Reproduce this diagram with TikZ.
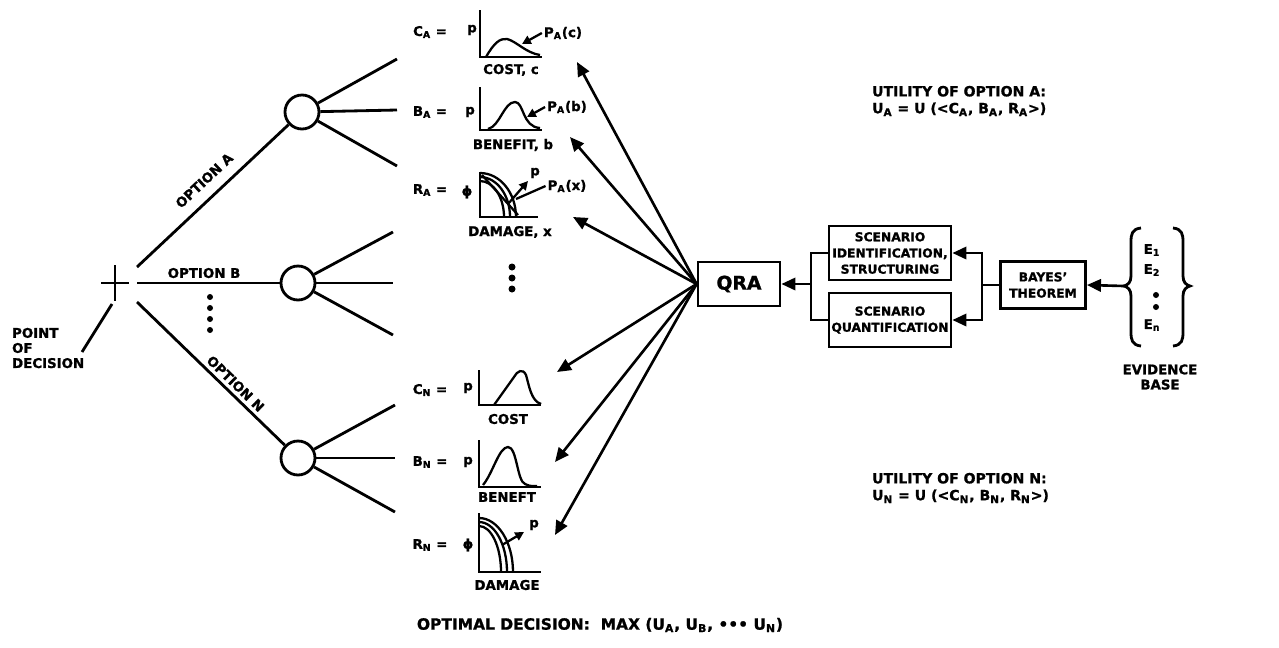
\documentclass[tikz,border=0pt]{standalone}
\usepackage{fontspec}
\setmainfont{DejaVu Sans}[BoldFeatures={FakeBold=1.2}]
\usetikzlibrary{arrows.meta,positioning,calc}

\tikzset{
  txt/.style={font=\fontsize{7.6}{8.6}\selectfont\bfseries,inner sep=1pt},
  bigtxt/.style={font=\fontsize{8}{9.6}\selectfont\bfseries,inner sep=1pt},
  blk/.style={draw,line width=1.6pt,align=center,inner sep=1pt,
              font=\fontsize{7}{9.2}\selectfont\bfseries},
  chance/.style={circle,draw,line width=1.6pt,minimum size=0.68cm,inner sep=0pt},
  tline/.style={line width=1.6pt},
  axln/.style={line width=1.4pt},
  dens/.style={line width=1.3pt},
  ar/.style={-{Triangle[length=8pt,width=7pt]},line width=1.5pt},
  arsm/.style={-{Triangle[length=5pt,width=5pt]},line width=1.3pt},
}

\begin{document}
\begin{tikzpicture}[x=0.02cm,y=-0.02cm]
\useasboundingbox (0,0) rectangle (1279,647);

% decision point
\coordinate (dec) at (115,283);
\draw[tline] (101,283) -- (129,283) (115,265) -- (115,301);
\node[txt,align=left,anchor=west] (pod) at (10,348) {POINT\\OF\\DECISION};
\coordinate (podend) at (82,352);
\coordinate (podtop) at (112,304);
\draw[tline] (podend) -- (podtop);

% options and chance nodes
\node[chance] (cA) at (302,112) {};
\node[chance] (cB) at (298,283) {};
\node[chance] (cN) at (298,458) {};
\coordinate (oA) at (137,267);
\coordinate (oB) at (137,283);
\coordinate (oN) at (137,302);
\draw[tline] (oA) -- (cA) node[txt,pos=0.52,above=5pt,sloped] {OPTION A};
\draw[tline] (oB) -- (cB) node[txt,pos=0.47,above=1pt] {OPTION B};
\draw[tline] (oN) -- (cN) node[txt,pos=0.62,above=1pt,sloped] {OPTION N};
\foreach \y in {297,308,319,330} \fill (210,\y) circle (3);

% outcome branches
\coordinate (a1) at (397,59);  \coordinate (a2) at (397,110); \coordinate (a3) at (397,166);
\coordinate (b1) at (393,232); \coordinate (b2) at (393,283); \coordinate (b3) at (393,335);
\coordinate (n1) at (395,405); \coordinate (n2) at (395,458); \coordinate (n3) at (395,512);
\foreach \s/\e in {cA/a1,cA/a2,cA/a3,cB/b1,cB/b2,cB/b3,cN/n1,cN/n2,cN/n3}
  \draw[tline] (\s) -- (\e);

% outcome labels
\node[txt] (lCA) at (430,32) {C\textsubscript{A} =};
\node[txt] (lBA) at (430,112) {B\textsubscript{A} =};
\node[txt] (lRA) at (430,190) {R\textsubscript{A} =};
\node[txt] (lCN) at (430,390) {C\textsubscript{N} =};
\node[txt] (lBN) at (430,462) {B\textsubscript{N} =};
\node[txt] (lRN) at (430,545) {R\textsubscript{N} =};

% cost A
\begin{scope}[shift={(480,57)},yscale=-1]
  \draw[axln] (0,47) -- (0,0) -- (62,0);
  \draw[dens] (6,0) .. controls (14,14) and (20,19) .. (27,18) .. controls (36,16) and (46,4) .. (60,2);
\end{scope}
\node[txt] (yCA) at (472,30) {p};
\node[txt] (xCA) at (511,70) {COST, c};
\node[txt] (pAc) at (563,33) {P\textsubscript{A}(c)};
\coordinate (kAc) at (522,44);
\draw[arsm] (pAc.west) -- (kAc);

% benefit A
\begin{scope}[shift={(480,130)},yscale=-1]
  \draw[axln] (0,43) -- (0,0) -- (62,0);
  \draw[dens] (8,1) .. controls (20,4) and (24,28) .. (35,28) .. controls (44,28) and (42,3) .. (60,2);
\end{scope}
\node[txt] (yBA) at (470,112) {p};
\node[txt] (xBA) at (513,145) {BENEFIT, b};
\node[txt] (pAb) at (567,107) {P\textsubscript{A}(b)};
\coordinate (kAb) at (527,117);
\draw[arsm] (pAb.west) -- (kAb);

% damage A
\begin{scope}[shift={(480,217)},yscale=-1]
  \draw[axln] (0,45) -- (0,0) -- (58,0);
  \foreach \rx/\ry in {24/36,30/40,36/44}
    \draw[dens] (0,\ry) arc[start angle=90,end angle=0,x radius=\rx,y radius=\ry];
  \draw[dens] (2,42) -- (38,2);
\end{scope}
\node[txt] (yRA) at (467,192) {ϕ};
\node[txt] (xRA) at (510,232) {DAMAGE, x};
\node[txt] (pRA) at (535,173) {p};
\coordinate (rAs) at (508,204);
\coordinate (rAh) at (528,181);
\draw[arsm] (rAs) -- (rAh);
\node[txt] (pAx) at (567,186) {P\textsubscript{A}(x)};
\coordinate (kAx) at (516,199);
\draw[dens] (pAx.west) -- (kAx);

\foreach \y in {267,278,289} \fill (512,\y) circle (3.5);

% cost N
\begin{scope}[shift={(479,405)},yscale=-1]
  \draw[axln] (0,35) -- (0,0) -- (62,0);
  \draw[dens] (15,0) -- (35,28) .. controls (38,34) and (44,37) .. (47,30) .. controls (50,20) and (52,4) .. (62,1);
\end{scope}
\node[txt] (yCN) at (468,388) {p};
\node[txt] (xCN) at (508,419) {COST};

% benefit N
\begin{scope}[shift={(479,487)},yscale=-1]
  \draw[axln] (0,47) -- (0,0) -- (62,0);
  \draw[dens] (4,2) .. controls (14,14) and (20,40) .. (29,40) .. controls (38,40) and (38,6) .. (46,3) .. controls (50,1) .. (58,1);
\end{scope}
\node[txt] (yBN) at (468,462) {p};
\node[txt] (xBN) at (507,497) {BENEFT};

% damage N
\begin{scope}[shift={(479,572)},yscale=-1]
  \draw[axln] (0,59) -- (0,0) -- (62,0);
  \foreach \rx/\ry in {22/46,28/50,34/54}
    \draw[dens] (0,\ry) arc[start angle=90,end angle=0,x radius=\rx,y radius=\ry];
\end{scope}
\node[txt] (yRN) at (468,545) {ϕ};
\node[txt] (xRN) at (507,585) {DAMAGE};
\node[txt] (pRN) at (534,525) {p};
\coordinate (rNs) at (502,545);
\coordinate (rNh) at (524,532);
\draw[arsm] (rNs) -- (rNh);

% QRA and inputs
\node[blk,font=\fontsize{10.7}{12}\selectfont\bfseries,minimum width=1.64cm,minimum height=0.88cm] (qra) at (739,284) {QRA};
\coordinate (tCA) at (577,62);
\coordinate (tBA) at (570,137);
\coordinate (tRA) at (573,217);
\coordinate (tCN) at (557,372);
\coordinate (tBN) at (555,462);
\coordinate (tRN) at (555,535);
\foreach \t in {tCA,tBA,tRA,tCN,tBN,tRN}
  \draw[ar] (qra.west) -- (\t);

\node[blk,minimum width=2.44cm,minimum height=1.08cm] (sid) at (890,253) {SCENARIO\\IDENTIFICATION,\\STRUCTURING};
\node[blk,minimum width=2.44cm,minimum height=1.08cm] (sq) at (890,320) {SCENARIO\\QUANTIFICATION};
\node[blk,minimum width=1.7cm,minimum height=0.94cm] (bay) at (1043,285) {BAYES'\\THEOREM};

\coordinate (jL) at (811,284);
\draw[tline] (sid.west) -| (jL) |- (sq.west);
\draw[ar] (jL) -- (qra.east);
\coordinate (jR) at (982,285);
\draw[tline] (bay.west) -- (jR);
\draw[ar] (jR) |- (sid.east);
\draw[ar] (jR) |- (sq.east);

% evidence base
\node[txt] (e1) at (1152,250) {E\textsubscript{1}};
\node[txt] (e2) at (1152,270) {E\textsubscript{2}};
\foreach \y in {295,307} \fill (1156,\y) circle (3);
\node[txt] (en) at (1152,325) {E\textsubscript{n}};
\draw[tline] (1141,228) .. controls (1132,229) and (1131,234) .. (1131,242) -- (1131,276)
  .. controls (1131,282) and (1128,285) .. (1124,286) .. controls (1128,287) and (1131,290) .. (1131,296)
  -- (1131,332) .. controls (1131,340) and (1132,345) .. (1141,346);
\draw[tline] (1173,228) .. controls (1182,229) and (1183,234) .. (1183,242) -- (1183,276)
  .. controls (1183,282) and (1186,285) .. (1190,286) .. controls (1186,287) and (1183,290) .. (1183,296)
  -- (1183,332) .. controls (1183,340) and (1182,345) .. (1173,346);
\coordinate (evL) at (1124,286);
\draw[ar] (evL) -- (bay.east);
\node[txt,align=center] (evb) at (1160,377) {EVIDENCE\\BASE};

% utilities
\node[bigtxt,align=left,anchor=west] (uA) at (870,101) {UTILITY OF OPTION A:\\U\textsubscript{A} = U (<C\textsubscript{A}, B\textsubscript{A}, R\textsubscript{A}>)};
\node[bigtxt,align=left,anchor=west] (uN) at (870,488) {UTILITY OF OPTION N:\\U\textsubscript{N} = U (<C\textsubscript{N}, B\textsubscript{N}, R\textsubscript{N}>)};
\node[bigtxt,font=\fontsize{8.8}{10}\selectfont\bfseries] (opt) at (600,625) {OPTIMAL DECISION:\ \ MAX (U\textsubscript{A}, U\textsubscript{B}, \textbullet\textbullet\textbullet{} U\textsubscript{N})};
\end{tikzpicture}
\end{document}
